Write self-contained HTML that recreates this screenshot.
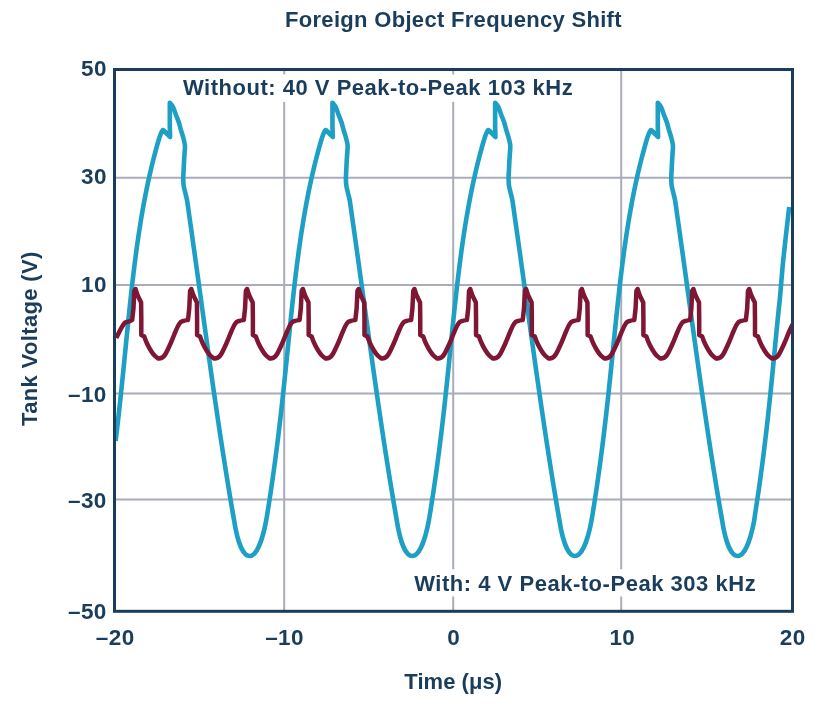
<!DOCTYPE html>
<html><head><meta charset="utf-8"><style>html,body{margin:0;padding:0;background:#fff;width:824px;height:708px;overflow:hidden}svg{display:block;will-change:transform}</style></head><body>
<svg width="824" height="708" viewBox="0 0 824 708">
<defs><clipPath id="pc"><rect x="114.5" y="69.5" width="678" height="542"/></clipPath></defs>
<rect width="824" height="708" fill="#fff"/>
<line x1="114.5" x2="792.5" y1="177.8" y2="177.8" stroke="#a9acb9" stroke-width="2"/>
<line x1="114.5" x2="792.5" y1="285.0" y2="285.0" stroke="#a9acb9" stroke-width="2"/>
<line x1="114.5" x2="792.5" y1="393.5" y2="393.5" stroke="#a9acb9" stroke-width="2"/>
<line x1="114.5" x2="792.5" y1="499.5" y2="499.5" stroke="#a9acb9" stroke-width="2"/>
<line x1="284.2" x2="284.2" y1="69.5" y2="611.3" stroke="#a9acb9" stroke-width="2"/>
<line x1="453.2" x2="453.2" y1="69.5" y2="611.3" stroke="#a9acb9" stroke-width="2"/>
<line x1="621.2" x2="621.2" y1="69.5" y2="611.3" stroke="#a9acb9" stroke-width="2"/>
<rect x="180" y="74.5" width="396" height="27.4" fill="#fff"/>
<rect x="411" y="569.3" width="347" height="27.2" fill="#fff"/>
<g clip-path="url(#pc)" fill="none" stroke-linejoin="round" stroke-linecap="butt">
<path d="M115.60 441.00 C115.82 439.17 116.41 434.33 116.92 430.00 C117.43 425.67 118.08 420.00 118.64 415.00 C119.20 410.00 119.74 405.00 120.28 400.00 C120.81 395.00 121.34 390.00 121.86 385.00 C122.37 380.00 122.88 375.00 123.38 370.00 C123.89 365.00 124.38 360.00 124.88 355.00 C125.38 350.00 125.87 345.00 126.37 340.00 C126.87 335.00 127.37 330.00 127.88 325.00 C128.38 320.00 128.89 315.00 129.41 310.00 C129.94 305.00 130.47 300.00 131.01 295.00 C131.56 290.00 132.12 285.00 132.70 280.00 C133.28 275.00 133.88 270.00 134.51 265.00 C135.13 260.00 135.78 255.00 136.46 250.00 C137.14 245.00 137.85 240.00 138.60 235.00 C139.34 230.00 140.12 225.00 140.95 220.00 C141.77 215.00 142.63 210.00 143.55 205.00 C144.46 200.00 145.42 195.00 146.44 190.00 C147.45 185.00 148.52 180.00 149.65 175.00 C150.79 170.00 151.72 165.92 153.24 160.00 C154.77 154.08 157.31 144.38 158.82 139.50 C160.33 134.62 161.39 132.10 162.30 130.70 C163.22 129.30 163.00 130.05 164.30 131.10 C165.60 132.15 169.14 136.02 170.11 137.00 L169.80 126.00 L169.80 102.80 C170.30 103.42 171.80 104.55 172.80 106.50 C173.80 108.45 174.80 111.87 175.80 114.50 C176.80 117.13 177.97 119.78 178.80 122.30 C179.63 124.82 180.08 127.15 180.80 129.60 C181.52 132.05 182.43 134.52 183.10 137.00 C183.77 139.48 184.50 142.58 184.80 144.50 C185.10 146.42 184.88 147.83 184.90 148.50 L184.10 160.00 L183.20 178.10 C183.27 179.28 183.25 182.72 183.60 185.20 C183.95 187.68 184.73 190.53 185.30 193.00 C185.87 195.47 186.35 196.33 187.00 200.00 C187.64 203.67 188.45 210.00 189.16 215.00 C189.88 220.00 190.59 225.00 191.30 230.00 C192.01 235.00 192.71 240.00 193.41 245.00 C194.12 250.00 194.81 255.00 195.51 260.00 C196.20 265.00 196.90 270.00 197.59 275.00 C198.28 280.00 198.97 285.00 199.66 290.00 C200.35 295.00 201.03 300.00 201.72 305.00 C202.41 310.00 203.10 315.00 203.79 320.00 C204.48 325.00 205.17 330.00 205.86 335.00 C206.56 340.00 207.25 345.00 207.95 350.00 C208.65 355.00 209.35 360.00 210.05 365.00 C210.76 370.00 211.47 375.00 212.18 380.00 C212.89 385.00 213.61 390.00 214.33 395.00 C215.05 400.00 215.78 405.00 216.52 410.00 C217.25 415.00 217.99 420.00 218.74 425.00 C219.49 430.00 220.24 435.00 221.00 440.00 C221.77 445.00 222.54 450.00 223.32 455.00 C224.10 460.00 224.89 465.00 225.69 470.00 C226.49 475.00 227.29 480.00 228.11 485.00 C228.93 490.00 229.76 495.00 230.60 500.00 C231.44 505.00 232.59 511.67 233.16 515.00 C233.73 518.33 233.89 519.17 234.03 520.00 C241.41 567.97 257.32 568.03 266.29 520.00 C266.69 517.50 267.93 510.00 268.71 505.00 C269.50 500.00 270.26 495.00 271.01 490.00 C271.75 485.00 272.48 480.00 273.18 475.00 C273.88 470.00 274.57 465.00 275.23 460.00 C275.90 455.00 276.54 450.00 277.17 445.00 C277.80 440.00 278.41 435.00 279.01 430.00 C279.61 425.00 280.19 420.00 280.76 415.00 C281.33 410.00 281.88 405.00 282.43 400.00 C282.97 395.00 283.51 390.00 284.03 385.00 C284.56 380.00 285.08 375.00 285.59 370.00 C286.11 365.00 286.61 360.00 287.12 355.00 C287.63 350.00 288.13 345.00 288.64 340.00 C289.15 335.00 289.65 330.00 290.17 325.00 C290.69 320.00 291.20 315.00 291.74 310.00 C292.27 305.00 292.81 300.00 293.37 295.00 C293.92 290.00 294.49 285.00 295.08 280.00 C295.68 275.00 296.28 270.00 296.92 265.00 C297.55 260.00 298.21 255.00 298.90 250.00 C299.59 245.00 300.31 240.00 301.06 235.00 C301.82 230.00 302.61 225.00 303.44 220.00 C304.28 215.00 305.15 210.00 306.07 205.00 C307.00 200.00 307.96 195.00 308.99 190.00 C310.02 185.00 311.09 180.00 312.24 175.00 C313.38 170.00 314.32 165.92 315.85 160.00 C317.39 154.08 319.95 144.38 321.47 139.50 C322.99 134.62 324.05 132.10 324.97 130.70 C325.89 129.30 325.67 130.05 326.97 131.10 C328.27 132.15 331.80 136.02 332.77 137.00 L332.47 126.00 L332.47 102.80 C332.97 103.42 334.47 104.55 335.47 106.50 C336.47 108.45 337.47 111.87 338.47 114.50 C339.47 117.13 340.64 119.78 341.47 122.30 C342.30 124.82 342.75 127.15 343.47 129.60 C344.19 132.05 345.10 134.52 345.77 137.00 C346.44 139.48 347.17 142.58 347.47 144.50 C347.77 146.42 347.55 147.83 347.57 148.50 L346.77 160.00 L345.87 178.10 C345.94 179.28 345.92 182.72 346.27 185.20 C346.62 187.68 347.40 190.53 347.97 193.00 C348.54 195.47 349.02 196.33 349.67 200.00 C350.31 203.67 351.12 210.00 351.83 215.00 C352.55 220.00 353.26 225.00 353.97 230.00 C354.68 235.00 355.38 240.00 356.08 245.00 C356.79 250.00 357.48 255.00 358.18 260.00 C358.87 265.00 359.57 270.00 360.26 275.00 C360.95 280.00 361.64 285.00 362.33 290.00 C363.02 295.00 363.70 300.00 364.39 305.00 C365.08 310.00 365.77 315.00 366.46 320.00 C367.15 325.00 367.84 330.00 368.53 335.00 C369.23 340.00 369.92 345.00 370.62 350.00 C371.32 355.00 372.02 360.00 372.72 365.00 C373.43 370.00 374.14 375.00 374.85 380.00 C375.56 385.00 376.28 390.00 377.00 395.00 C377.72 400.00 378.45 405.00 379.19 410.00 C379.92 415.00 380.66 420.00 381.41 425.00 C382.16 430.00 382.91 435.00 383.67 440.00 C384.44 445.00 385.21 450.00 385.99 455.00 C386.77 460.00 387.56 465.00 388.36 470.00 C389.16 475.00 389.96 480.00 390.78 485.00 C391.60 490.00 392.43 495.00 393.27 500.00 C394.11 505.00 395.26 511.67 395.83 515.00 C396.40 518.33 396.56 519.17 396.70 520.00 C404.08 567.97 419.99 568.03 428.96 520.00 C429.36 517.50 430.60 510.00 431.38 505.00 C432.17 500.00 432.93 495.00 433.68 490.00 C434.42 485.00 435.15 480.00 435.85 475.00 C436.55 470.00 437.24 465.00 437.90 460.00 C438.57 455.00 439.21 450.00 439.84 445.00 C440.47 440.00 441.08 435.00 441.68 430.00 C442.28 425.00 442.86 420.00 443.43 415.00 C444.00 410.00 444.55 405.00 445.10 400.00 C445.64 395.00 446.18 390.00 446.70 385.00 C447.23 380.00 447.75 375.00 448.26 370.00 C448.78 365.00 449.28 360.00 449.79 355.00 C450.30 350.00 450.80 345.00 451.31 340.00 C451.82 335.00 452.32 330.00 452.84 325.00 C453.36 320.00 453.87 315.00 454.41 310.00 C454.94 305.00 455.48 300.00 456.04 295.00 C456.59 290.00 457.16 285.00 457.75 280.00 C458.35 275.00 458.95 270.00 459.59 265.00 C460.22 260.00 460.88 255.00 461.57 250.00 C462.26 245.00 462.98 240.00 463.73 235.00 C464.49 230.00 465.28 225.00 466.11 220.00 C466.95 215.00 467.82 210.00 468.74 205.00 C469.67 200.00 470.63 195.00 471.66 190.00 C472.69 185.00 473.76 180.00 474.91 175.00 C476.05 170.00 476.99 165.92 478.52 160.00 C480.06 154.08 482.62 144.38 484.14 139.50 C485.66 134.62 486.72 132.10 487.64 130.70 C488.56 129.30 488.34 130.05 489.64 131.10 C490.94 132.15 494.47 136.02 495.44 137.00 L495.14 126.00 L495.14 102.80 C495.64 103.42 497.14 104.55 498.14 106.50 C499.14 108.45 500.14 111.87 501.14 114.50 C502.14 117.13 503.31 119.78 504.14 122.30 C504.97 124.82 505.42 127.15 506.14 129.60 C506.86 132.05 507.77 134.52 508.44 137.00 C509.11 139.48 509.84 142.58 510.14 144.50 C510.44 146.42 510.22 147.83 510.24 148.50 L509.44 160.00 L508.54 178.10 C508.61 179.28 508.59 182.72 508.94 185.20 C509.29 187.68 510.07 190.53 510.64 193.00 C511.21 195.47 511.69 196.33 512.34 200.00 C512.98 203.67 513.79 210.00 514.50 215.00 C515.22 220.00 515.93 225.00 516.64 230.00 C517.35 235.00 518.05 240.00 518.75 245.00 C519.46 250.00 520.15 255.00 520.85 260.00 C521.54 265.00 522.24 270.00 522.93 275.00 C523.62 280.00 524.31 285.00 525.00 290.00 C525.69 295.00 526.37 300.00 527.06 305.00 C527.75 310.00 528.44 315.00 529.13 320.00 C529.82 325.00 530.51 330.00 531.20 335.00 C531.90 340.00 532.59 345.00 533.29 350.00 C533.99 355.00 534.69 360.00 535.39 365.00 C536.10 370.00 536.81 375.00 537.52 380.00 C538.23 385.00 538.95 390.00 539.67 395.00 C540.39 400.00 541.12 405.00 541.86 410.00 C542.59 415.00 543.33 420.00 544.08 425.00 C544.83 430.00 545.58 435.00 546.34 440.00 C547.11 445.00 547.88 450.00 548.66 455.00 C549.44 460.00 550.23 465.00 551.03 470.00 C551.83 475.00 552.63 480.00 553.45 485.00 C554.27 490.00 555.10 495.00 555.94 500.00 C556.78 505.00 557.93 511.67 558.50 515.00 C559.07 518.33 559.23 519.17 559.37 520.00 C566.75 567.97 582.66 568.03 591.63 520.00 C592.03 517.50 593.27 510.00 594.05 505.00 C594.84 500.00 595.60 495.00 596.35 490.00 C597.09 485.00 597.82 480.00 598.52 475.00 C599.22 470.00 599.91 465.00 600.57 460.00 C601.24 455.00 601.88 450.00 602.51 445.00 C603.14 440.00 603.75 435.00 604.35 430.00 C604.95 425.00 605.53 420.00 606.10 415.00 C606.67 410.00 607.22 405.00 607.77 400.00 C608.31 395.00 608.85 390.00 609.37 385.00 C609.90 380.00 610.42 375.00 610.93 370.00 C611.45 365.00 611.95 360.00 612.46 355.00 C612.97 350.00 613.47 345.00 613.98 340.00 C614.49 335.00 614.99 330.00 615.51 325.00 C616.03 320.00 616.54 315.00 617.08 310.00 C617.61 305.00 618.15 300.00 618.71 295.00 C619.26 290.00 619.83 285.00 620.42 280.00 C621.02 275.00 621.62 270.00 622.26 265.00 C622.89 260.00 623.55 255.00 624.24 250.00 C624.93 245.00 625.65 240.00 626.40 235.00 C627.16 230.00 627.95 225.00 628.78 220.00 C629.62 215.00 630.49 210.00 631.41 205.00 C632.34 200.00 633.30 195.00 634.33 190.00 C635.36 185.00 636.43 180.00 637.58 175.00 C638.72 170.00 639.66 165.92 641.19 160.00 C642.73 154.08 645.29 144.38 646.81 139.50 C648.33 134.62 649.39 132.10 650.31 130.70 C651.23 129.30 651.01 130.05 652.31 131.10 C653.61 132.15 657.14 136.02 658.11 137.00 L657.81 126.00 L657.81 102.80 C658.31 103.42 659.81 104.55 660.81 106.50 C661.81 108.45 662.81 111.87 663.81 114.50 C664.81 117.13 665.98 119.78 666.81 122.30 C667.64 124.82 668.09 127.15 668.81 129.60 C669.53 132.05 670.44 134.52 671.11 137.00 C671.78 139.48 672.51 142.58 672.81 144.50 C673.11 146.42 672.89 147.83 672.91 148.50 L672.11 160.00 L671.21 178.10 C671.28 179.28 671.26 182.72 671.61 185.20 C671.96 187.68 672.74 190.53 673.31 193.00 C673.88 195.47 674.36 196.33 675.01 200.00 C675.65 203.67 676.46 210.00 677.17 215.00 C677.89 220.00 678.60 225.00 679.31 230.00 C680.02 235.00 680.72 240.00 681.42 245.00 C682.13 250.00 682.82 255.00 683.52 260.00 C684.21 265.00 684.91 270.00 685.60 275.00 C686.29 280.00 686.98 285.00 687.67 290.00 C688.36 295.00 689.04 300.00 689.73 305.00 C690.42 310.00 691.11 315.00 691.80 320.00 C692.49 325.00 693.18 330.00 693.87 335.00 C694.57 340.00 695.26 345.00 695.96 350.00 C696.66 355.00 697.36 360.00 698.06 365.00 C698.77 370.00 699.48 375.00 700.19 380.00 C700.90 385.00 701.62 390.00 702.34 395.00 C703.06 400.00 703.79 405.00 704.53 410.00 C705.26 415.00 706.00 420.00 706.75 425.00 C707.50 430.00 708.25 435.00 709.01 440.00 C709.78 445.00 710.55 450.00 711.33 455.00 C712.11 460.00 712.90 465.00 713.70 470.00 C714.50 475.00 715.30 480.00 716.12 485.00 C716.94 490.00 717.77 495.00 718.61 500.00 C719.45 505.00 720.60 511.67 721.17 515.00 C721.74 518.33 721.90 519.17 722.04 520.00 C729.42 567.97 745.33 568.03 754.30 520.00 C754.53 517.50 755.74 510.00 756.50 505.00 C757.26 500.00 758.01 495.00 758.73 490.00 C759.45 485.00 760.15 480.00 760.83 475.00 C761.52 470.00 762.18 465.00 762.82 460.00 C763.46 455.00 764.09 450.00 764.69 445.00 C765.30 440.00 765.89 435.00 766.47 430.00 C767.04 425.00 767.60 420.00 768.15 415.00 C768.69 410.00 769.23 405.00 769.75 400.00 C770.27 395.00 770.78 390.00 771.29 385.00 C771.79 380.00 772.29 375.00 772.78 370.00 C773.27 365.00 773.75 360.00 774.24 355.00 C774.73 350.00 775.21 345.00 775.69 340.00 C776.18 335.00 776.66 330.00 777.16 325.00 C777.65 320.00 778.15 315.00 778.66 310.00 C779.17 305.00 779.53 302.50 780.22 295.00 C780.91 287.50 781.84 274.83 782.78 265.00 C783.72 255.17 784.81 245.67 785.88 236.00 C786.95 226.33 788.63 211.83 789.18 207.00" stroke="#1e9fc4" stroke-width="4.6"/>
<path d="M116.30 338.00 C117.03 336.52 119.22 331.68 120.70 329.10 C122.18 326.52 123.82 323.77 125.20 322.50 C126.58 321.23 127.83 321.92 129.00 321.50 C130.17 321.08 131.67 320.25 132.20 320.00 L133.50 308.00 L134.30 291.00 L135.50 289.00 L137.70 295.60 L141.10 302.60 L141.30 318.00 L141.30 335.00 L144.30 336.60 C144.75 337.75 145.92 341.18 147.00 343.50 C148.08 345.82 149.55 348.50 150.80 350.50 C152.05 352.50 153.22 354.15 154.50 355.50 C155.78 356.85 157.83 358.08 158.50 358.60 C159.12 358.42 161.12 358.27 162.29 357.50 C163.46 356.73 164.07 356.42 165.49 354.00 C166.91 351.58 169.19 346.58 170.79 343.00 C172.39 339.42 173.84 335.42 175.09 332.50 C176.34 329.58 177.34 327.25 178.29 325.50 C179.24 323.75 179.87 322.78 180.79 322.00 C181.71 321.22 182.59 321.13 183.79 320.80 C184.99 320.47 187.29 320.13 187.99 320.00 L189.29 308.00 L190.09 291.00 L191.29 289.00 L193.49 295.60 L196.89 302.60 L197.09 318.00 L197.09 335.00 L200.09 336.60 C200.54 337.75 201.71 341.18 202.79 343.50 C203.87 345.82 205.34 348.50 206.59 350.50 C207.84 352.50 209.01 354.15 210.29 355.50 C211.57 356.85 213.62 358.08 214.29 358.60 C214.91 358.42 216.91 358.27 218.08 357.50 C219.25 356.73 219.86 356.42 221.28 354.00 C222.70 351.58 224.98 346.58 226.58 343.00 C228.18 339.42 229.63 335.42 230.88 332.50 C232.13 329.58 233.13 327.25 234.08 325.50 C235.03 323.75 235.66 322.78 236.58 322.00 C237.50 321.22 238.38 321.13 239.58 320.80 C240.78 320.47 243.08 320.13 243.78 320.00 L245.08 308.00 L245.88 291.00 L247.08 289.00 L249.28 295.60 L252.68 302.60 L252.88 318.00 L252.88 335.00 L255.88 336.60 C256.33 337.75 257.50 341.18 258.58 343.50 C259.66 345.82 261.13 348.50 262.38 350.50 C263.63 352.50 264.80 354.15 266.08 355.50 C267.36 356.85 269.41 358.08 270.08 358.60 C270.70 358.42 272.70 358.27 273.87 357.50 C275.04 356.73 275.65 356.42 277.07 354.00 C278.49 351.58 280.77 346.58 282.37 343.00 C283.97 339.42 285.42 335.42 286.67 332.50 C287.92 329.58 288.92 327.25 289.87 325.50 C290.82 323.75 291.45 322.78 292.37 322.00 C293.29 321.22 294.17 321.13 295.37 320.80 C296.57 320.47 298.87 320.13 299.57 320.00 L300.87 308.00 L301.67 291.00 L302.87 289.00 L305.07 295.60 L308.47 302.60 L308.67 318.00 L308.67 335.00 L311.67 336.60 C312.12 337.75 313.29 341.18 314.37 343.50 C315.45 345.82 316.92 348.50 318.17 350.50 C319.42 352.50 320.59 354.15 321.87 355.50 C323.15 356.85 325.20 358.08 325.87 358.60 C326.49 358.42 328.49 358.27 329.66 357.50 C330.83 356.73 331.44 356.42 332.86 354.00 C334.28 351.58 336.56 346.58 338.16 343.00 C339.76 339.42 341.21 335.42 342.46 332.50 C343.71 329.58 344.71 327.25 345.66 325.50 C346.61 323.75 347.24 322.78 348.16 322.00 C349.08 321.22 349.96 321.13 351.16 320.80 C352.36 320.47 354.66 320.13 355.36 320.00 L356.66 308.00 L357.46 291.00 L358.66 289.00 L360.86 295.60 L364.26 302.60 L364.46 318.00 L364.46 335.00 L367.46 336.60 C367.91 337.75 369.08 341.18 370.16 343.50 C371.24 345.82 372.71 348.50 373.96 350.50 C375.21 352.50 376.38 354.15 377.66 355.50 C378.94 356.85 380.99 358.08 381.66 358.60 C382.28 358.42 384.28 358.27 385.45 357.50 C386.62 356.73 387.23 356.42 388.65 354.00 C390.07 351.58 392.35 346.58 393.95 343.00 C395.55 339.42 397.00 335.42 398.25 332.50 C399.50 329.58 400.50 327.25 401.45 325.50 C402.40 323.75 403.03 322.78 403.95 322.00 C404.87 321.22 405.75 321.13 406.95 320.80 C408.15 320.47 410.45 320.13 411.15 320.00 L412.45 308.00 L413.25 291.00 L414.45 289.00 L416.65 295.60 L420.05 302.60 L420.25 318.00 L420.25 335.00 L423.25 336.60 C423.70 337.75 424.87 341.18 425.95 343.50 C427.03 345.82 428.50 348.50 429.75 350.50 C431.00 352.50 432.17 354.15 433.45 355.50 C434.73 356.85 436.78 358.08 437.45 358.60 C438.07 358.42 440.07 358.27 441.24 357.50 C442.41 356.73 443.02 356.42 444.44 354.00 C445.86 351.58 448.14 346.58 449.74 343.00 C451.34 339.42 452.79 335.42 454.04 332.50 C455.29 329.58 456.29 327.25 457.24 325.50 C458.19 323.75 458.82 322.78 459.74 322.00 C460.66 321.22 461.54 321.13 462.74 320.80 C463.94 320.47 466.24 320.13 466.94 320.00 L468.24 308.00 L469.04 291.00 L470.24 289.00 L472.44 295.60 L475.84 302.60 L476.04 318.00 L476.04 335.00 L479.04 336.60 C479.49 337.75 480.66 341.18 481.74 343.50 C482.82 345.82 484.29 348.50 485.54 350.50 C486.79 352.50 487.96 354.15 489.24 355.50 C490.52 356.85 492.57 358.08 493.24 358.60 C493.86 358.42 495.86 358.27 497.03 357.50 C498.20 356.73 498.81 356.42 500.23 354.00 C501.65 351.58 503.93 346.58 505.53 343.00 C507.13 339.42 508.58 335.42 509.83 332.50 C511.08 329.58 512.08 327.25 513.03 325.50 C513.98 323.75 514.61 322.78 515.53 322.00 C516.45 321.22 517.33 321.13 518.53 320.80 C519.73 320.47 522.03 320.13 522.73 320.00 L524.03 308.00 L524.83 291.00 L526.03 289.00 L528.23 295.60 L531.63 302.60 L531.83 318.00 L531.83 335.00 L534.83 336.60 C535.28 337.75 536.45 341.18 537.53 343.50 C538.61 345.82 540.08 348.50 541.33 350.50 C542.58 352.50 543.75 354.15 545.03 355.50 C546.31 356.85 548.36 358.08 549.03 358.60 C549.65 358.42 551.65 358.27 552.82 357.50 C553.99 356.73 554.60 356.42 556.02 354.00 C557.44 351.58 559.72 346.58 561.32 343.00 C562.92 339.42 564.37 335.42 565.62 332.50 C566.87 329.58 567.87 327.25 568.82 325.50 C569.77 323.75 570.40 322.78 571.32 322.00 C572.24 321.22 573.12 321.13 574.32 320.80 C575.52 320.47 577.82 320.13 578.52 320.00 L579.82 308.00 L580.62 291.00 L581.82 289.00 L584.02 295.60 L587.42 302.60 L587.62 318.00 L587.62 335.00 L590.62 336.60 C591.07 337.75 592.24 341.18 593.32 343.50 C594.40 345.82 595.87 348.50 597.12 350.50 C598.37 352.50 599.54 354.15 600.82 355.50 C602.10 356.85 604.15 358.08 604.82 358.60 C605.44 358.42 607.44 358.27 608.61 357.50 C609.78 356.73 610.39 356.42 611.81 354.00 C613.23 351.58 615.51 346.58 617.11 343.00 C618.71 339.42 620.16 335.42 621.41 332.50 C622.66 329.58 623.66 327.25 624.61 325.50 C625.56 323.75 626.19 322.78 627.11 322.00 C628.03 321.22 628.91 321.13 630.11 320.80 C631.31 320.47 633.61 320.13 634.31 320.00 L635.61 308.00 L636.41 291.00 L637.61 289.00 L639.81 295.60 L643.21 302.60 L643.41 318.00 L643.41 335.00 L646.41 336.60 C646.86 337.75 648.03 341.18 649.11 343.50 C650.19 345.82 651.66 348.50 652.91 350.50 C654.16 352.50 655.33 354.15 656.61 355.50 C657.89 356.85 659.94 358.08 660.61 358.60 C661.23 358.42 663.23 358.27 664.40 357.50 C665.57 356.73 666.18 356.42 667.60 354.00 C669.02 351.58 671.30 346.58 672.90 343.00 C674.50 339.42 675.95 335.42 677.20 332.50 C678.45 329.58 679.45 327.25 680.40 325.50 C681.35 323.75 681.98 322.78 682.90 322.00 C683.82 321.22 684.70 321.13 685.90 320.80 C687.10 320.47 689.40 320.13 690.10 320.00 L691.40 308.00 L692.20 291.00 L693.40 289.00 L695.60 295.60 L699.00 302.60 L699.20 318.00 L699.20 335.00 L702.20 336.60 C702.65 337.75 703.82 341.18 704.90 343.50 C705.98 345.82 707.45 348.50 708.70 350.50 C709.95 352.50 711.12 354.15 712.40 355.50 C713.68 356.85 715.73 358.08 716.40 358.60 C717.02 358.42 719.02 358.27 720.19 357.50 C721.36 356.73 721.97 356.42 723.39 354.00 C724.81 351.58 727.09 346.58 728.69 343.00 C730.29 339.42 731.74 335.42 732.99 332.50 C734.24 329.58 735.24 327.25 736.19 325.50 C737.14 323.75 737.77 322.78 738.69 322.00 C739.61 321.22 740.49 321.13 741.69 320.80 C742.89 320.47 745.19 320.13 745.89 320.00 L747.19 308.00 L747.99 291.00 L749.19 289.00 L751.39 295.60 L754.79 302.60 L754.99 318.00 L754.99 335.00 L757.99 336.60 C758.44 337.75 759.61 341.18 760.69 343.50 C761.77 345.82 763.24 348.50 764.49 350.50 C765.74 352.50 766.91 354.15 768.19 355.50 C769.47 356.85 771.52 358.08 772.19 358.60 C772.81 358.42 774.81 358.27 775.98 357.50 C777.15 356.73 777.76 356.42 779.18 354.00 C780.60 351.58 782.88 346.58 784.48 343.00 C786.08 339.42 787.53 335.42 788.78 332.50 C790.03 329.58 791.03 327.25 791.98 325.50 C792.93 323.75 793.56 322.78 794.48 322.00 C795.40 321.22 796.28 321.13 797.48 320.80 C798.68 320.47 800.98 320.13 801.68 320.00 L802.98 308.00 L803.78 291.00 L804.98 289.00 L807.18 295.60 L810.58 302.60 L810.78 318.00 L810.78 335.00 L813.78 336.60 C814.23 337.75 815.40 341.18 816.48 343.50 C817.56 345.82 819.03 348.50 820.28 350.50 C821.53 352.50 822.70 354.15 823.98 355.50 C825.26 356.85 827.31 358.08 827.98 358.60" stroke="#7e1634" stroke-width="4.5"/>
</g>
<rect x="114.5" y="69.5" width="678" height="541.8" fill="none" stroke="#1a3d5c" stroke-width="3"/>
<g fill="#1a3d5c" font-family="Liberation Sans" font-weight="bold">
<text x="285" y="27.0" text-anchor="start" font-size="22" letter-spacing="0.31">Foreign Object Frequency Shift</text>
<text x="183" y="95.3" text-anchor="start" font-size="22" letter-spacing="0.515">Without: 40 V Peak-to-Peak 103 kHz</text>
<text x="414.2" y="591.2" text-anchor="start" font-size="22" letter-spacing="0.524">With: 4 V Peak-to-Peak 303 kHz</text>
<text x="404.3" y="688.6" text-anchor="start" font-size="22" letter-spacing="0.05">Time (μs)</text>
<text transform="translate(37 426) rotate(-90)" text-anchor="start" font-size="22" letter-spacing="0.35">Tank Voltage (V)</text>
<text x="106.80000000000001" y="76.3" text-anchor="end" font-size="22.5" letter-spacing="0.4">50</text>
<text x="106.80000000000001" y="184.0" text-anchor="end" font-size="22.5" letter-spacing="0.4">30</text>
<text x="106.80000000000001" y="291.8" text-anchor="end" font-size="22.5" letter-spacing="0.4">10</text>
<text x="106.80000000000001" y="402.0" text-anchor="end" font-size="22.5" letter-spacing="0.4">–10</text>
<text x="106.80000000000001" y="507.90000000000003" text-anchor="end" font-size="22.5" letter-spacing="0.4">–30</text>
<text x="106.80000000000001" y="618.8000000000001" text-anchor="end" font-size="22.5" letter-spacing="0.4">–50</text>
<text x="115.2" y="645.0" text-anchor="middle" font-size="22.5" letter-spacing="0.4">–20</text>
<text x="284.5" y="645.0" text-anchor="middle" font-size="22.5" letter-spacing="0.4">–10</text>
<text x="453.7" y="645.0" text-anchor="middle" font-size="22.5" letter-spacing="0.4">0</text>
<text x="622.3" y="645.0" text-anchor="middle" font-size="22.5" letter-spacing="0.4">10</text>
<text x="792.6999999999999" y="645.0" text-anchor="middle" font-size="22.5" letter-spacing="0.4">20</text>
</g></svg>
</body></html>
